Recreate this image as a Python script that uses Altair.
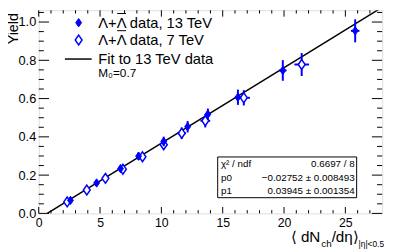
import altair as alt
import pandas as pd

# ---------------- data ----------------
x13 = [25.8, 19.9, 16.24, 13.79, 12.14, 10.19, 8.14, 6.67, 4.72, 2.59]
y13 = [0.954, 0.747, 0.607, 0.518, 0.453, 0.376, 0.299, 0.234, 0.159, 0.068]
xe13 = [0.35, 0.3, 0.25, 0.2, 0.2, 0.15, 0.15, 0.12, 0.1, 0.08]
ye13 = [0.06, 0.054, 0.04, 0.03, 0.03, 0.025, 0.02, 0.017, 0.013, 0.01]

x7 = [21.44, 16.72, 13.58, 11.66, 10.19, 8.46, 6.86, 5.44, 3.92, 2.32]
y7 = [0.778, 0.604, 0.484, 0.419, 0.359, 0.296, 0.231, 0.183, 0.122, 0.060]
xe7 = [0.6, 0.5, 0.4, 0.35, 0.3, 0.25, 0.2, 0.16, 0.12, 0.07]
ye7 = [0.06, 0.04, 0.035, 0.03, 0.025, 0.02, 0.017, 0.013, 0.01, 0.008]

p0 = -0.02752
p1 = 0.03945
fit_x = [-p0 / p1, 28.0]

x_major = [0, 5, 10, 15, 20, 25]
x_minor = [1, 2, 3, 4, 6, 7, 8, 9, 11, 12, 13, 14, 16, 17, 18, 19, 21, 22, 23, 24, 26, 27]
y_major = [0, 0.2, 0.4, 0.6, 0.8, 1.0]
y_minor = [0.05, 0.1, 0.15, 0.25, 0.3, 0.35, 0.45, 0.5, 0.55, 0.65, 0.7, 0.75,
           0.85, 0.9, 0.95, 1.05]

leg_labels = ["Λ+Λ data, 13 TeV", "Λ+Λ data, 7 TeV", "Fit to 13 TeV data", "M₀=0.7"]
stat_names = ["χ² / ndf", "p0", "p1"]
stat_vals = ["0.6697 / 8", "−0.02752 ± 0.008493", "0.03945 ± 0.001354"]

# ---------------- layout ----------------
W, H = 350, 207
XMAX, YMAX = 28.0, 1.0615
FONT = "Liberation Sans"
BLUE = "#0000ff"
DIAMOND = "M0,-1L0.7,0L0,1L-0.7,0Z"

xs = alt.Scale(domain=[0, XMAX], nice=False, zero=False)
ys = alt.Scale(domain=[0, YMAX], nice=False, zero=False)

xaxis = alt.Axis(values=x_major, domain=False, ticks=False, tickSize=0, grid=False,
                 labelPadding=3, labelFontSize=12.5, labelFont=FONT, labelColor="black",
                 labelFlush=False, labelOverlap=False, title=None)
yaxis = alt.Axis(values=y_major, domain=False, ticks=False, tickSize=0, grid=False,
                 labelPadding=3, labelFontSize=13, labelFont=FONT, labelColor="black",
                 labelFlush=False, labelOverlap=False, title=None)


def mk(x, y, xe, ye):
    return pd.DataFrame({
        "x": x, "y": y,
        "xlo": [a - b for a, b in zip(x, xe)], "xhi": [a + b for a, b in zip(x, xe)],
        "ylo": [a - b for a, b in zip(y, ye)], "yhi": [a + b for a, b in zip(y, ye)],
    })


d13 = mk(x13, y13, xe13, ye13)
d7 = mk(x7, y7, xe7, ye7)

X = lambda f: alt.X(f, type="quantitative", scale=xs, axis=xaxis)
Y = lambda f: alt.Y(f, type="quantitative", scale=ys, axis=yaxis)


def xticks(vals, L):
    df = pd.DataFrame({"v": vals})
    bot = alt.Chart(df).mark_rule(color="black", strokeWidth=1).encode(
        x=X("v"), y=alt.value(H), y2=alt.value(H - L))
    top = alt.Chart(df).mark_rule(color="black", strokeWidth=1).encode(
        x=X("v"), y=alt.value(0), y2=alt.value(L))
    return [bot, top]


def yticks(vals, L):
    df = pd.DataFrame({"v": vals})
    lef = alt.Chart(df).mark_rule(color="black", strokeWidth=1).encode(
        y=Y("v"), x=alt.value(0), x2=alt.value(L))
    rig = alt.Chart(df).mark_rule(color="black", strokeWidth=1).encode(
        y=Y("v"), x=alt.value(W), x2=alt.value(W - L))
    return [lef, rig]


ticks = xticks(x_major, 6.5) + xticks(x_minor, 3.3) + yticks(y_major, 10.5) + yticks(y_minor, 5.2)

fit_df = pd.DataFrame({"x": fit_x, "y": [p0 + p1 * v for v in fit_x]})
fit = alt.Chart(fit_df).mark_line(color="black", strokeWidth=1.5, clip=True).encode(
    x=X("x"), y=Y("y"))


def series(df, filled):
    hb = alt.Chart(df).mark_rule(color=BLUE, strokeWidth=2).encode(x=X("xlo"), x2="xhi", y=Y("y"))
    vb = alt.Chart(df).mark_rule(color=BLUE, strokeWidth=2).encode(x=X("x"), y=Y("ylo"), y2="yhi")
    if filled:
        pt = alt.Chart(df).mark_point(shape=DIAMOND, filled=True, fill=BLUE, stroke=BLUE,
                                      strokeWidth=1, size=72, opacity=1).encode(x=X("x"), y=Y("y"))
    else:
        pt = alt.Chart(df).mark_point(shape=DIAMOND, filled=True, fill="white", stroke=BLUE,
                                      strokeWidth=1.5, size=100, opacity=1).encode(x=X("x"), y=Y("y"))
    return [hb, vb, pt]


s7 = series(d7, False)
s13 = series(d13, True)


def txt(s, x, y, size, align="left", baseline="middle", angle=0):
    return alt.Chart(pd.DataFrame({"t": [s]})).mark_text(
        font=FONT, fontSize=size, align=align, baseline=baseline, color="black", angle=angle
    ).encode(text="t:N", x=alt.value(x), y=alt.value(y))


one = pd.DataFrame({"a": [0]})


def overbar(x1, x2, y):
    return alt.Chart(one).mark_rule(color="black", strokeWidth=1).encode(
        x=alt.value(x1), x2=alt.value(x2), y=alt.value(y))


LF = 15
lam_x1 = 60.7 + 0.667 * LF + 0.584 * LF + 0.5
lam_x2 = lam_x1 + 0.667 * LF - 1
legend = [
    alt.Chart(one).mark_point(shape=DIAMOND, filled=True, fill=BLUE, stroke=BLUE, strokeWidth=1,
                              size=72, opacity=1).encode(x=alt.value(40.7), y=alt.value(12.7)),
    alt.Chart(one).mark_point(shape=DIAMOND, filled=True, fill="white", stroke=BLUE,
                              strokeWidth=1.5, size=100, opacity=1).encode(x=alt.value(40.7), y=alt.value(30.3)),
    alt.Chart(one).mark_rule(color="black", strokeWidth=1.5).encode(
        x=alt.value(26.7), x2=alt.value(54), y=alt.value(49.7)),
    txt(leg_labels[0], 60.7, 13, LF),
    txt(leg_labels[1], 60.7, 30.5, LF),
    txt(leg_labels[2], 60.7, 49.5, LF),
    txt(leg_labels[3], 60.7, 64.5, 12),
    overbar(lam_x1, lam_x2, 3.3),
    overbar(lam_x1, lam_x2, 20.8),
]

box = alt.Chart(one).mark_rect(fill="white", stroke="black", strokeWidth=1).encode(
    x=alt.value(182.4), x2=alt.value(324), y=alt.value(149.5), y2=alt.value(191))
stat_y = [157, 171.5, 184.5]
stats = [box]
for n, v, yy in zip(stat_names, stat_vals, stat_y):
    stats.append(txt(n, 185.7, yy, 10))
    stats.append(txt(v, 322, yy, 10, align="right"))

titles = [
    txt("Yield", -24.8, 3, 14.5, align="right", angle=270),
    txt("⟨ dN", 287, 236.5, 15.5, align="right", baseline="alphabetic"),
    txt("ch", 288, 241.5, 10, baseline="alphabetic"),
    txt("/dη⟩", 298.5, 236.5, 15.5, baseline="alphabetic"),
    txt("|η|<0.5", 326, 241.5, 8.5, baseline="alphabetic"),
]

chart = alt.layer(
    *ticks, fit, *s7, *s13, *legend, *stats, *titles
).properties(
    width=W, height=H,
    padding={"left": 31.3, "top": 0, "right": 9, "bottom": 35},
    autosize="none",
).configure_view(stroke="black", strokeWidth=1).configure(background="white")

chart.save("out.html", embed_options={"renderer": "svg", "actions": False})
